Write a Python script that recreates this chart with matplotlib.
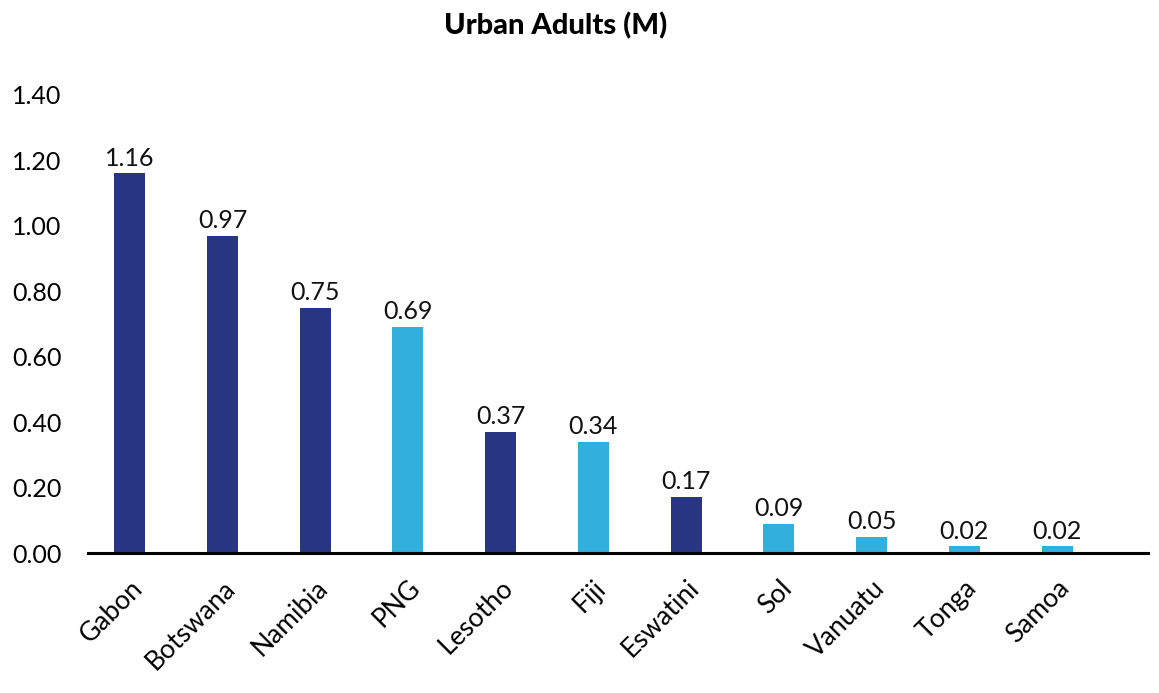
import numpy as np
import matplotlib
matplotlib.use("Agg")
import matplotlib.pyplot as plt

plt.rcParams['font.family'] = ['Lato', 'DejaVu Sans']

countries = ["Gabon", "Botswana", "Namibia", "PNG", "Lesotho", "Fiji",
             "Eswatini", "Sol", "Vanuatu", "Tonga", "Samoa"]
urban_adults = [1.16, 0.97, 0.75, 0.69, 0.37, 0.34, 0.17, 0.09, 0.05, 0.02, 0.02]
pacific = [False, False, False, True, False, True, False, True, True, True, True]

dark = "#283583"
light = "#33AFDC"
colors = [light if p else dark for p in pacific]

fig = plt.figure(figsize=(11.59, 6.93), dpi=100)
ax = fig.add_axes([0.0759, 0.202, 0.9146, 0.661])

x = np.arange(len(countries))
bars = ax.bar(x, urban_adults, width=0.335, color=colors, zorder=2)

for b, v in zip(bars, urban_adults):
    ax.text(b.get_x() + b.get_width() / 2, v + 0.012, f"{v:.2f}",
            ha="center", va="bottom", fontsize=18, color="#111111")

ax.set_xlim(-0.45, 10.98)
ax.set_ylim(0, 1.4)
ax.set_yticks(np.arange(0, 1.41, 0.2))
ax.set_yticklabels([f"{t:.2f}" for t in np.arange(0, 1.41, 0.2)], fontsize=18)
ax.set_xticks(x)
ax.set_xticklabels(countries, rotation=45, ha="right", rotation_mode="anchor",
                   fontsize=19)
ax.tick_params(axis="both", length=0)
ax.tick_params(axis="y", pad=19)
ax.tick_params(axis="x", pad=16)

for s in ["top", "right", "left"]:
    ax.spines[s].set_visible(False)
ax.spines["bottom"].set_linewidth(2.2)
ax.spines["bottom"].set_color("black")
ax.spines["bottom"].set_zorder(3)

fig.text(0.479, 0.963, "Urban Adults (M)", ha="center", va="center",
         fontsize=21, fontweight="black")

fig.savefig("out.png", dpi=100, facecolor="white")
